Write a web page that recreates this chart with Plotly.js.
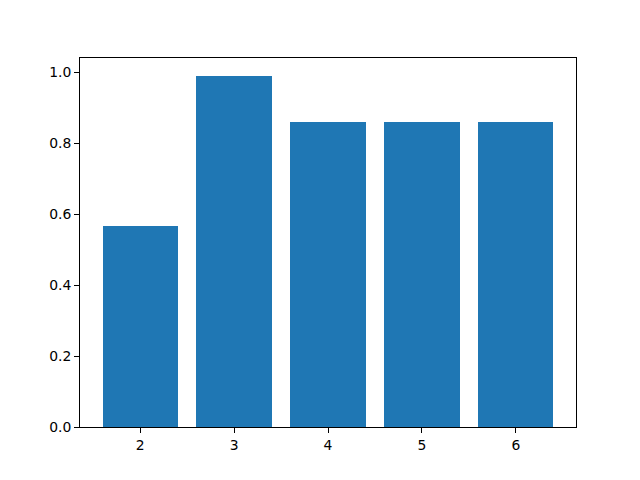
<!DOCTYPE html>
<html>
<head>
<meta charset="utf-8">
<script src="https://cdn.plot.ly/plotly-3.0.1.min.js"></script>
<style>html,body{margin:0;padding:0;background:#fff}#chart{width:640px;height:480px}</style>
</head>
<body>
<div id="chart"></div>
<script>
const categories = [2, 3, 4, 5, 6];
const values = [0.566, 0.9907, 0.8585, 0.8585, 0.8585];
const yTicks = [0.0, 0.2, 0.4, 0.6, 0.8, 1.0];
const yTickLabels = ["0.0", "0.2", "0.4", "0.6", "0.8", "1.0"];

const trace = {
  type: 'bar',
  x: categories,
  y: values,
  width: 0.8,
  marker: {color: '#1f77b4', line: {width: 0}},
  hoverinfo: 'none'
};

const axisCommon = {
  showline: true,
  linecolor: '#000',
  linewidth: 1,
  mirror: true,
  ticks: 'outside',
  ticklen: 5,
  tickwidth: 1,
  tickcolor: '#000',
  showgrid: false,
  zeroline: false,
  tickfont: {family: 'DejaVu Sans', size: 13.9, color: '#000'}
};

const layout = {
  width: 640,
  height: 480,
  margin: {l: 80, r: 64, t: 57.6, b: 52.8, pad: 0},
  paper_bgcolor: '#fff',
  plot_bgcolor: '#fff',
  showlegend: false,
  bargap: 0,
  xaxis: Object.assign({}, axisCommon, {
    range: [1.36, 6.64],
    tickvals: categories,
    ticktext: categories.map(String)
  }),
  yaxis: Object.assign({}, axisCommon, {
    range: [0, 1.05 * Math.max(...values)],
    tickvals: yTicks,
    ticktext: yTickLabels
  })
};

Plotly.newPlot('chart', [trace], layout, {displayModeBar: false, staticPlot: true});
</script>
</body>
</html>
